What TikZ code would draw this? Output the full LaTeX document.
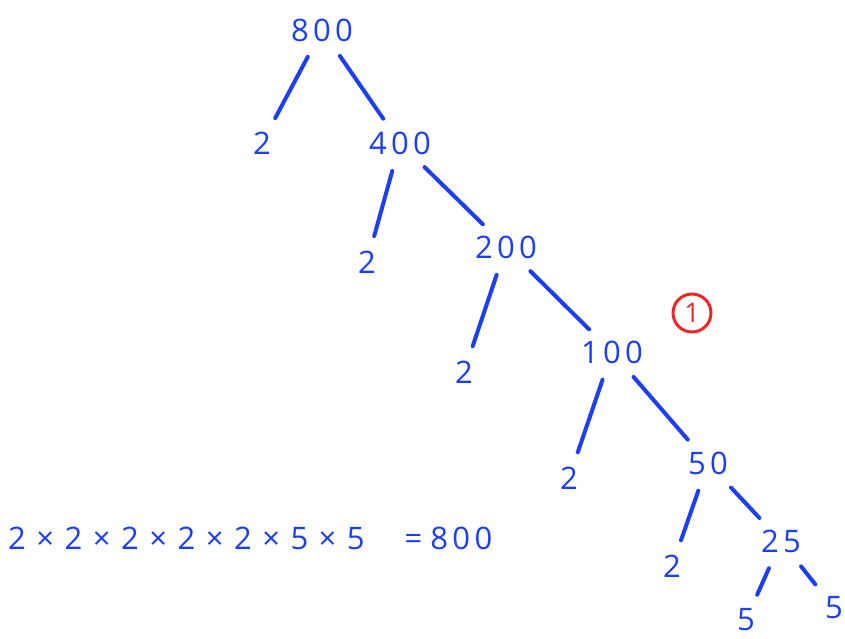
\documentclass[tikz,border=0pt]{standalone}
\usepackage{fontspec}
\setmainfont{Open Sans}
\usetikzlibrary{positioning}
\definecolor{ink}{RGB}{28,62,245}
\definecolor{mark}{RGB}{235,40,40}
\newcommand\by{\hspace{10.5pt}×\hspace{10.5pt}}

\begin{document}
\begin{tikzpicture}[x=1pt, y=1pt,
  num/.style={text=ink, font=\fontsize{31}{36}\selectfont\addfontfeature{LetterSpace=14}, inner sep=2pt},
  edge/.style={draw=ink, line width=4pt, line cap=round, shorten <=15pt, shorten >=13pt},
  circled/.style={draw=mark, circle, line width=3pt, text=mark, minimum size=38pt,
                  inner sep=0pt, font=\fontsize{27}{30}\selectfont}]
\useasboundingbox (0,0) rectangle (845,-639);
\node[num] (r800) at (322,-30) {800};
\node[num] (a2) at (262,-143) {2};
\node[num] (r400) at (400,-143) {400};
\node[num] (b2) at (367,-262) {2};
\node[num] (r200) at (506,-247) {200};
\node[num] (c2) at (464,-372) {2};
\node[num] (r100) at (612,-352) {100};
\node[num] (d2) at (569,-478) {2};
\node[num] (r50) at (708,-463) {50};
\node[num] (e2) at (672,-566) {2};
\node[num] (r25) at (781,-541) {25};
\node[num] (f5) at (746,-620) {5};
\node[num] (g5) at (834,-608) {5};
\draw[edge] (r800) -- (a2); \draw[edge] (r800) -- (r400);
\draw[edge] (r400) -- (b2); \draw[edge] (r400) -- (r200);
\draw[edge] (r200) -- (c2); \draw[edge] (r200) -- (r100);
\draw[edge] (r100) -- (d2); \draw[edge] (r100) -- (r50);
\draw[edge] (r50) -- (e2); \draw[edge] (r50) -- (r25);
\draw[edge] (r25) -- (f5); \draw[edge] (r25) -- (g5);
% the product along the bottom
\node[num, anchor=west, font=\fontsize{31}{36}\selectfont] (prod) at (6,-538)
  {2\by2\by2\by2\by2\by5\by5\hspace{40pt}=\hspace{8pt}\addfontfeature{LetterSpace=14}800};
\node[circled] (one) at (692,-313) {1};
\end{tikzpicture}
\end{document}
